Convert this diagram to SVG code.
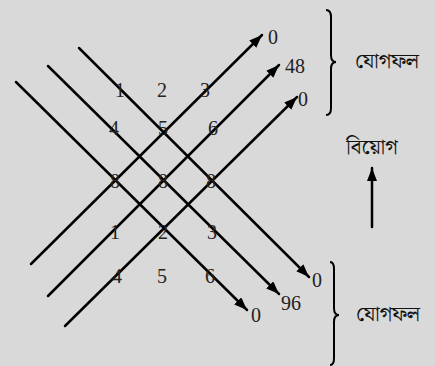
<svg xmlns="http://www.w3.org/2000/svg" width="435" height="366" viewBox="0 0 435 366">
<style>
.n{font-family:"Liberation Serif","Times New Roman",serif;font-size:20px;fill:#222;text-anchor:middle;dominant-baseline:central}
.b{font-family:"Noto Serif Bengali","Lohit Bengali","Noto Sans Bengali","Liberation Serif",serif;font-size:21px;fill:#111;text-anchor:middle;dominant-baseline:central}
.l{stroke:#000;stroke-width:2.5;fill:none;stroke-linecap:round}
.br{stroke:#000;stroke-width:2;fill:none}
</style>
<defs>
<marker id="ah" markerUnits="userSpaceOnUse" markerWidth="14" markerHeight="12" refX="13" refY="5" orient="auto">
<path d="M0,0 L13,5 L0,10 Z" fill="#000"/>
</marker>
</defs>
<rect width="435" height="366" fill="#d9d9d9"/>
<g id="connectors">
<line class="l" x1="79" y1="48" x2="309" y2="277" marker-end="url(#ah)"/>
<line class="l" x1="48" y1="66" x2="279" y2="294" marker-end="url(#ah)"/>
<line class="l" x1="16" y1="82" x2="247" y2="310" marker-end="url(#ah)"/>
<line class="l" x1="31" y1="264" x2="262" y2="35" marker-end="url(#ah)"/>
<line class="l" x1="48" y1="296" x2="279" y2="65" marker-end="url(#ah)"/>
<line class="l" x1="65" y1="326" x2="297" y2="97" marker-end="url(#ah)"/>
<line class="l" x1="372" y1="227" x2="372" y2="168" marker-end="url(#ah)"/>
</g>
<g id="braces">
<path class="br" d="M326,10 Q331,10 331,17 L331,55 Q331,62 336,62 Q331,62 331,69 L331,108 Q331,115 326,115"/>
<path class="br" d="M330,262 Q334,262 334,269 L334,308 Q334,315 339,315 Q334,315 334,322 L334,358 Q334,365 330,365"/>
</g>
<g id="top-digits">
<text class="n" x="120" y="90">1</text>
<text class="n" x="162" y="90">2</text>
<text class="n" x="205" y="90">3</text>
<text class="n" x="114" y="128">4</text>
<text class="n" x="163" y="128">5</text>
<text class="n" x="213" y="128">6</text>
</g>
<g id="middle-digits">
<text class="n" x="115" y="181">8</text>
<text class="n" x="163" y="181">8</text>
<text class="n" x="211" y="181">8</text>
</g>
<g id="bottom-digits">
<text class="n" x="115" y="232">1</text>
<text class="n" x="163" y="232">2</text>
<text class="n" x="212" y="232">3</text>
<text class="n" x="117" y="276">4</text>
<text class="n" x="162" y="276">5</text>
<text class="n" x="210" y="276">6</text>
</g>
<g id="top-sums">
<text class="n" x="273" y="37">0</text>
<text class="n" x="295" y="66">48</text>
<text class="n" x="303" y="99">0</text>
</g>
<g id="bottom-sums">
<text class="n" x="317" y="280">0</text>
<text class="n" x="291" y="303">96</text>
<text class="n" x="256" y="315">0</text>
</g>
<g id="label-top"><text class="b" x="387" y="62">যোগফল</text></g>
<g id="label-sub"><text class="b" x="372" y="148">বিয়োগ</text></g>
<g id="label-bottom"><text class="b" x="388" y="315">যোগফল</text></g>
</svg>
